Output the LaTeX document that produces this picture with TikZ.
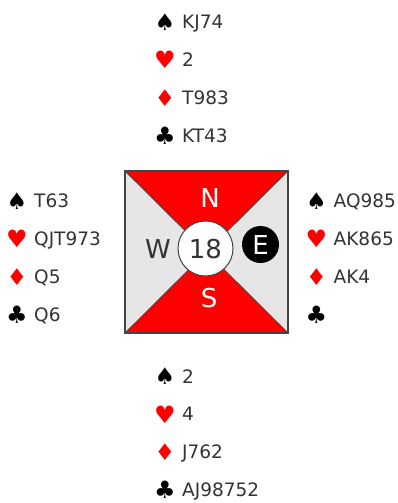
\documentclass[tikz,border=0pt]{standalone}
\usepackage{fontspec}
\setmainfont{DejaVu Sans}
\usetikzlibrary{positioning,calc}
\definecolor{ink}{HTML}{333333}
\definecolor{edge}{HTML}{444444}
\definecolor{pale}{HTML}{E6E6E6}
\definecolor{suitred}{HTML}{FF0000}

\begin{document}
\begin{tikzpicture}[
  x=1pt, y=-1pt,
  suit/.style={inner sep=0pt},
  spd/.style={suit,text=black,font=\fontsize{23}{23}\selectfont},
  hrt/.style={suit,text=suitred,font=\fontsize{24}{24}\selectfont},
  dmd/.style={suit,text=suitred,font=\fontsize{23}{23}\selectfont},
  clb/.style={suit,text=black,font=\fontsize{24}{24}\selectfont},
  cards/.style={inner sep=0pt,anchor=west,text=ink,text height=13pt,text depth=0pt,font=\fontsize{18.5}{18.5}\selectfont},
  seat/.style={inner sep=0pt,text height=19pt,text depth=0pt,font=\fontsize{26}{26}\selectfont},
  quad/.style={draw=edge,line width=0.8pt}]
  \useasboundingbox (0,0) rectangle (398,503);
  % table
  \coordinate (tl) at (125,171);
  \coordinate (tr) at (288,171);
  \coordinate (br) at (288,333);
  \coordinate (bl) at (125,333);
  \coordinate (mid) at (206.5,252);
  \fill[suitred] (tl) -- (tr) -- (mid) -- cycle;
  \fill[suitred] (bl) -- (br) -- (mid) -- cycle;
  \fill[pale] (tl) -- (bl) -- (mid) -- cycle;
  \fill[pale] (tr) -- (br) -- (mid) -- cycle;
  \draw[quad] (tl) -- (br);
  \draw[quad] (tr) -- (bl);
  \draw[edge,line width=1.6pt] (tl) rectangle (br);
  % seats
  \node[circle,draw=edge,line width=1pt,fill=white,minimum size=55pt,inner sep=0pt] (board) at (205.5,248.5) {};
  \node[seat,text=ink] (brdnum) at (board) {18};
  \node[seat,text=white] (north) at (210,198) {N};
  \node[seat,text=white] (south) at (209,298) {S};
  \node[seat,text=ink] (west) at (158,248.5) {W};
  \node[circle,fill=black,minimum size=37pt,inner sep=0pt] (dealer) at (260.5,244.5) {};
  \node[seat,text=white] (east) at (dealer) {E};
  % hands
  \foreach \st/\sym/\cards [count=\i from 0] in {spd/♠/KJ74,hrt/♥/2,dmd/♦/T983,clb/♣/KT43}{
    \node[\st] (ns\i) at (165,22+38*\i) {\sym};
    \node[cards] (nc\i) at ($(ns\i)+(17,0)$) {\cards};
  }
  \foreach \st/\sym/\cards [count=\i from 0] in {spd/♠/T63,hrt/♥/QJT973,dmd/♦/Q5,clb/♣/Q6}{
    \node[\st] (ws\i) at (17,201+38*\i) {\sym};
    \node[cards] (wc\i) at ($(ws\i)+(17,0)$) {\cards};
  }
  \foreach \st/\sym/\cards [count=\i from 0] in {spd/♠/AQ985,hrt/♥/AK865,dmd/♦/AK4,clb/♣/{}}{
    \node[\st] (es\i) at (316.5,201+38*\i) {\sym};
    \node[cards] (ec\i) at ($(es\i)+(17,0)$) {\cards};
  }
  \foreach \st/\sym/\cards [count=\i from 0] in {spd/♠/2,hrt/♥/4,dmd/♦/J762,clb/♣/AJ98752}{
    \node[\st] (ss\i) at (165,376.5+37.8*\i) {\sym};
    \node[cards] (sc\i) at ($(ss\i)+(17,0)$) {\cards};
  }
\end{tikzpicture}
\end{document}
